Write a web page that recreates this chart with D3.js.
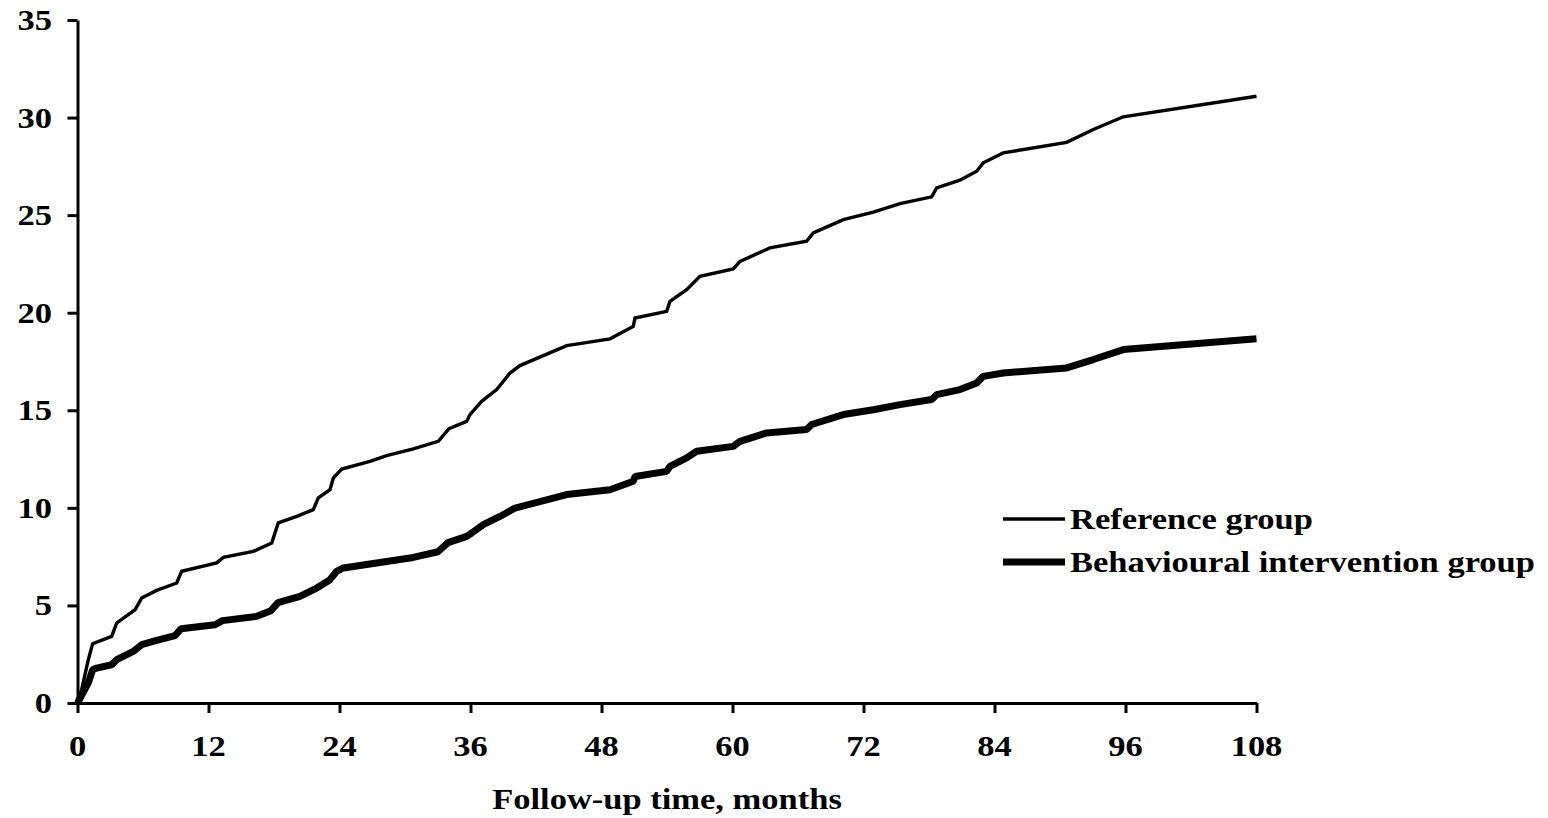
<!DOCTYPE html>
<html>
<head>
<meta charset="utf-8">
<script src="https://cdn.jsdelivr.net/npm/d3@7"></script>
<style>
  html, body { margin: 0; padding: 0; background: #fff; }
  svg { display: block; }
</style>
</head>
<body>
<svg id="chart" width="1548" height="818"></svg>
<script>
// ---- data ----
const refMonths = [0,0.38,0.99,1.39,3.13,3.59,5.27,5.88,7.25,9.09,9.54,12.75,13.36,16.10,17.79,18.39,20.08,21.60,22.06,23.13,23.43,24.20,26.79,28.32,30.76,33.05,34.03,35.65,35.95,37.02,38.40,39.62,40.53,44.81,48.78,50.91,51.07,53.97,54.27,55.80,57.02,60.07,60.69,63.43,66.79,67.40,70.15,72.90,75.34,78.25,78.70,80.83,82.37,82.97,84.80,90.61,93.05,95.80,108];
const refValues = [0,0.68,2.22,3.04,3.41,4.10,4.78,5.38,5.77,6.15,6.75,7.18,7.46,7.77,8.20,9.23,9.56,9.91,10.51,10.93,11.53,11.99,12.38,12.68,13.02,13.41,14.06,14.43,14.78,15.46,16.06,16.91,17.29,18.31,18.66,19.30,19.73,20.07,20.58,21.18,21.87,22.24,22.63,23.32,23.66,24.09,24.77,25.15,25.59,25.94,26.40,26.79,27.25,27.68,28.19,28.73,29.39,30.04,31.09];
const behMonths = [0,0.99,1.39,1.76,3.13,3.59,5.11,5.88,7.25,8.93,9.48,12.60,13.28,16.42,17.72,18.37,20.38,21.30,21.91,23.13,23.74,24.35,30.76,33.02,33.94,35.65,36.11,37.17,38.70,40.08,44.81,48.78,50.91,51.07,53.97,54.27,55.80,56.72,60.07,60.69,63.13,66.79,67.25,70.15,72.90,75.34,78.25,78.70,80.83,82.37,82.97,84.80,90.61,93.05,95.80,108];
const behValues = [0,1.03,1.71,1.79,1.96,2.22,2.64,2.99,3.21,3.45,3.81,4.01,4.22,4.44,4.73,5.14,5.46,5.72,5.89,6.32,6.75,6.92,7.46,7.75,8.22,8.54,8.71,9.14,9.56,9.99,10.68,10.93,11.36,11.61,11.87,12.13,12.56,12.90,13.15,13.41,13.84,14.01,14.27,14.78,15.03,15.29,15.55,15.80,16.06,16.40,16.74,16.91,17.17,17.60,18.11,18.66];
const xTicks = [0,12,24,36,48,60,72,84,96,108];
const yTicks = [0,5,10,15,20,25,30,35];
const seriesNames = ["Reference group", "Behavioural intervention group"];
const xTitle = "Follow-up time, months";

// ---- layout ----
const svg = d3.select("#chart");
const FONT = "'Liberation Serif', 'Times New Roman', Times, serif";
const FS = 30, SX = 1.15;
const x = d3.scaleLinear().domain([0,108]).range([77.5,1256.5]);
const y = d3.scaleLinear().domain([0,35]).range([703,20]);

// axes (lines only)
const gy = svg.append("g").attr("transform", `translate(${x(0)},0)`)
  .call(d3.axisLeft(y).tickValues(yTicks).tickSize(10).tickSizeOuter(0).tickFormat(""));
const gx = svg.append("g").attr("transform", `translate(0,${y(0)})`)
  .call(d3.axisBottom(x).tickValues(xTicks).tickSize(10).tickSizeOuter(0).tickFormat(""));
[gx, gy].forEach(g => {
  g.select(".domain").attr("stroke", "#000").attr("stroke-width", 3);
  g.selectAll(".tick line").attr("stroke", "#000").attr("stroke-width", 3);
});

function label(txt, px, py, anchor) {
  svg.append("text")
    .attr("transform", `translate(${px},${py}) scale(${SX},1)`)
    .attr("text-anchor", anchor)
    .attr("font-family", FONT).attr("font-weight", "bold").attr("font-size", FS)
    .attr("fill", "#000")
    .text(txt);
}
yTicks.forEach(v => label(String(v), 52, y(v) + 10, "end"));
xTicks.forEach(v => label(String(v), x(v), 756, "middle"));
label(xTitle, 667, 809, "middle");

// lines
const line = d3.line().x(d => x(d[0])).y(d => y(d[1]));
const refData = refMonths.map((m,i) => [m, refValues[i]]);
const behData = behMonths.map((m,i) => [m, behValues[i]]);
svg.append("path").datum(refData).attr("d", line)
  .attr("fill", "none").attr("stroke", "#000").attr("stroke-width", 3.4)
  .attr("stroke-linejoin", "miter");
svg.append("path").datum(behData).attr("d", line)
  .attr("fill", "none").attr("stroke", "#000").attr("stroke-width", 7)
  .attr("stroke-linejoin", "bevel");

// legend
const legY = [519, 562], legW = [3.4, 7];
seriesNames.forEach((name, i) => {
  svg.append("line").attr("x1", 1003).attr("x2", 1065)
    .attr("y1", legY[i]).attr("y2", legY[i])
    .attr("stroke", "#000").attr("stroke-width", legW[i]);
  label(name, 1070, legY[i] + 10, "start");
});
</script>
</body>
</html>
